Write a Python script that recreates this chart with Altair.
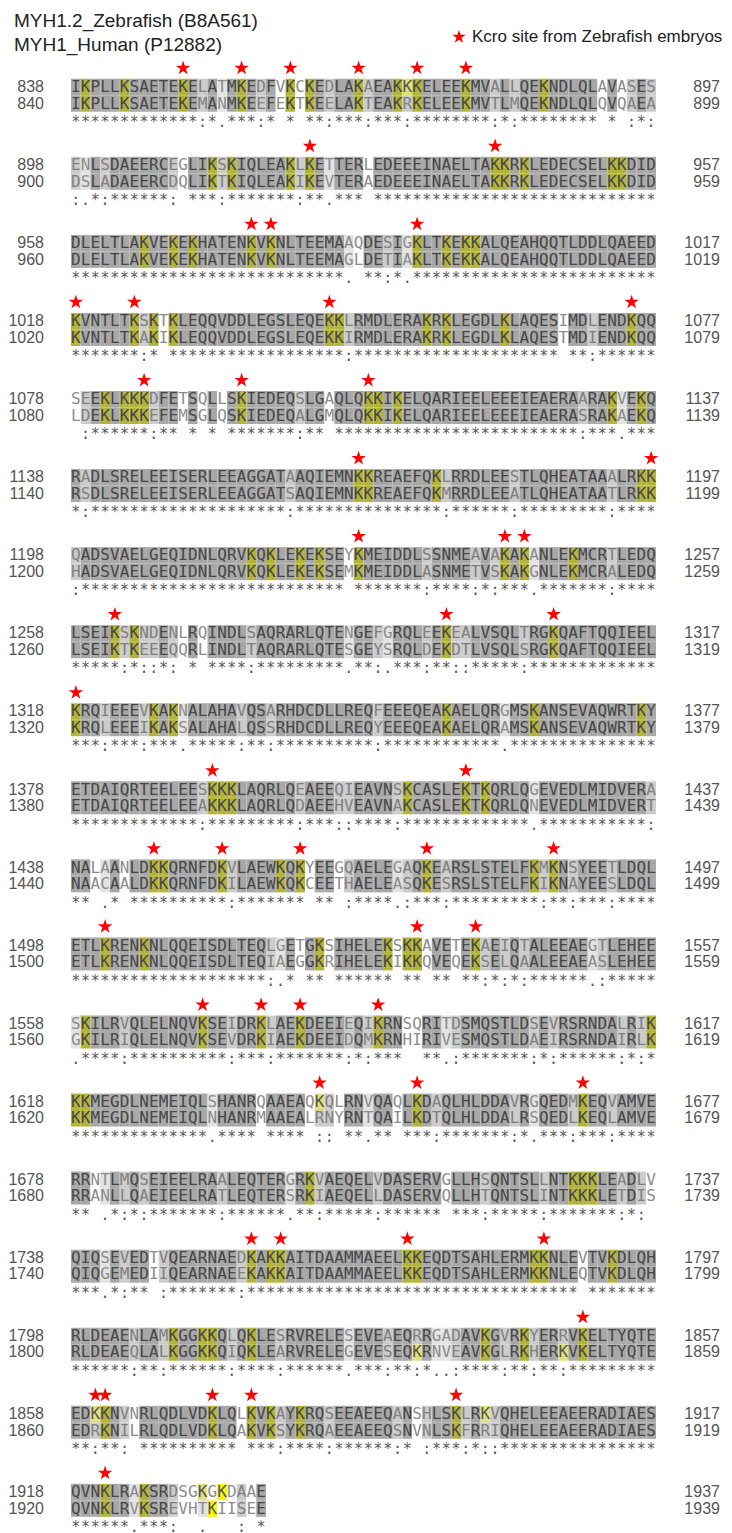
import altair as alt
import pandas as pd

# ---------------- data ----------------
species = ["MYH1.2_Zebrafish (B8A561)", "MYH1_Human (P12882)"]
legend_label = "Kcro site from Zebrafish embryos"
zebrafish_start = 838
human_start = 840

zebrafish = [
    "IKPLLKSAETEKELATMKEDFVKCKEDLAKAEAKKKELEEKMVALLQEKNDLQLAVASES",
    "ENLSDAEERCEGLIKSKIQLEAKLKETTERLEDEEEINAELTAKKRKLEDECSELKKDID",
    "DLELTLAKVEKEKHATENKVKNLTEEMAAQDESIGKLTKEKKALQEAHQQTLDDLQAEED",
    "KVNTLTKSKTKLEQQVDDLEGSLEQEKKLRMDLERAKRKLEGDLKLAQESIMDLENDKQQ",
    "SEEKLKKKDFETSQLLSKIEDEQSLGAQLQKKIKELQARIEELEEEIEAERAARAKVEKQ",
    "RADLSRELEEISERLEEAGGATAAQIEMNKKREAEFQKLRRDLEESTLQHEATAAALRKK",
    "QADSVAELGEQIDNLQRVKQKLEKEKSEYKMEIDDLSSNMEAVAKAKANLEKMCRTLEDQ",
    "LSEIKSKNDENLRQINDLSAQRARLQTENGEFGRQLEEKEALVSQLTRGKQAFTQQIEEL",
    "KRQIEEEVKAKNALAHAVQSARHDCDLLREQFEEEQEAKAELQRGMSKANSEVAQWRTKY",
    "ETDAIQRTEELEESKKKLAQRLQEAEEQIEAVNSKCASLEKTKQRLQGEVEDLMIDVERA",
    "NALAANLDKKQRNFDKVLAEWKQKYEEGQAELEGAQKEARSLSTELFKMKNSYEETLDQL",
    "ETLKRENKNLQQEISDLTEQLGETGKSIHELEKSKKAVETEKAEIQTALEEAEGTLEHEE",
    "SKILRVQLELNQVKSEIDRKLAEKDEEIEQIKRNSQRITDSMQSTLDSEVRSRNDALRIK",
    "KKMEGDLNEMEIQLSHANRQAAEAQKQLRNVQAQLKDAQLHLDDAVRGQEDMKEQVAMVE",
    "RRNTLMQSEIEELRAALEQTERGRKVAEQELVDASERVGLLHSQNTSLLNTKKKLEADLV",
    "QIQSEVEDTVQEARNAEDKAKKAITDAAMMAEELKKEQDTSAHLERMKKNLEVTVKDLQH",
    "RLDEAENLAMKGGKKQLQKLESRVRELESEVEAEQRRGADAVKGVRKYERRVKELTYQTE",
    "EDKKNVNRLQDLVDKLQLKVKAYKRQSEEAEEQANSHLSKLRKVQHELEEAEERADIAES",
    "QVNKLRAKSRDSGKGKDAAE",
]

human = [
    "IKPLLKSAETEKEMANMKEEFEKTKEELAKTEAKRKELEEKMVTLMQEKNDLQLQVQAEA",
    "DSLADAEERCDQLIKTKIQLEAKIKEVTERAEDEEEINAELTAKKRKLEDECSELKKDID",
    "DLELTLAKVEKEKHATENKVKNLTEEMAGLDETIAKLTKEKKALQEAHQQTLDDLQAEED",
    "KVNTLTKAKIKLEQQVDDLEGSLEQEKKIRMDLERAKRKLEGDLKLAQESTMDIENDKQQ",
    "LDEKLKKKEFEMSGLQSKIEDEQALGMQLQKKIKELQARIEELEEEIEAERASRAKAEKQ",
    "RSDLSRELEEISERLEEAGGATSAQIEMNKKREAEFQKMRRDLEEATLQHEATAATLRKK",
    "HADSVAELGEQIDNLQRVKQKLEKEKSEMKMEIDDLASNMETVSKAKGNLEKMCRALEDQ",
    "LSEIKTKEEEQQRLINDLTAQRARLQTESGEYSRQLDEKDTLVSQLSRGKQAFTQQIEEL",
    "KRQLEEEIKAKSALAHALQSSRHDCDLLREQYEEEQEAKAELQRAMSKANSEVAQWRTKY",
    "ETDAIQRTEELEEAKKKLAQRLQDAEEHVEAVNAKCASLEKTKQRLQNEVEDLMIDVERT",
    "NAACAALDKKQRNFDKILAEWKQKCEETHAELEASQKESRSLSTELFKIKNAYEESLDQL",
    "ETLKRENKNLQQEISDLTEQIAEGGKRIHELEKIKKQVEQEKSELQAALEEAEASLEHEE",
    "GKILRIQLELNQVKSEVDRKIAEKDEEIDQMKRNHIRIVESMQSTLDAEIRSRNDAIRLK",
    "KKMEGDLNEMEIQLNHANRMAAEALRNYRNTQAILKDTQLHLDDALRSQEDLKEQLAMVE",
    "RRANLLQAEIEELRATLEQTERSRKIAEQELLDASERVQLLHTQNTSLINTKKKLETDIS",
    "QIQGEMEDIIQEARNAEEKAKKAITDAAMMAEELKKEQDTSAHLERMKKNLEQTVKDLQH",
    "RLDEAEQLALKGGKKQIQKLEARVRELEGEVESEQKRNVEAVKGLRKHERKVKELTYQTE",
    "EDRKNILRLQDLVDKLQAKVKSYKRQAEEAEEQSNVNLSKFRRIQHELEEAEERADIAES",
    "QVNKLRVKSREVHTKIISEE",
]

# Kcro sites (1-based column within each block of the zebrafish row)
kcro_sites = [
    [12, 18, 23, 30, 36, 41],
    [25, 44],
    [19, 21, 36],
    [1, 7, 27, 58],
    [8, 18, 31],
    [30, 60],
    [30, 45, 47],
    [5, 39, 50],
    [1],
    [15, 41],
    [9, 16, 24, 37, 50],
    [4, 36, 42],
    [14, 20, 24, 32],
    [26, 36, 53],
    [],
    [19, 22, 35, 49],
    [53],
    [3, 4, 15, 19, 40],
    [4],
]

# Clustal residue groups
STRONG = ["STA", "NEQK", "NHQK", "NDEQ", "QHRK", "MILV", "MILF", "HY", "FYW"]
WEAK = ["CSA", "ATV", "SAG", "STNK", "STPA", "SGND", "SNDEQK", "NDEQHK",
        "NEQHRK", "FVLIM", "HFY"]

# ---------------- layout constants ----------------
BLOCK_STEP = 4.731     # rows between successive blocks
CONS_ROW = 2.12
STAR_ROW = -1.15
X_DOMAIN = [-6.4615, 66.974]
Y_DOMAIN = [-4.788, 87.636]
STAR = ("M0,-1L0.2245,-0.309L0.9511,-0.309L0.3633,0.118L0.5878,0.809L0,0.382"
        "L-0.5878,0.809L-0.3633,0.118L-0.9511,-0.309L-0.2245,-0.309Z")


def cons_symbol(a, b):
    if a == b:
        return "*"
    if any(a in g and b in g for g in STRONG):
        return ":"
    if any(a in g and b in g for g in WEAK):
        return "."
    return " "


cells, cons, stars, nums = [], [], [], []
zp, hp = zebrafish_start, human_start
for b, (zs, hs) in enumerate(zip(zebrafish, human)):
    base = b * BLOCK_STEP
    for c, (a, h) in enumerate(zip(zs, hs)):
        sym = cons_symbol(a, h)
        for r, me in enumerate((a, h)):
            if sym == "*":
                cls = "Kid" if me == "K" else "id"
            elif me == "K":
                cls = "Ksim" if sym in ":." else "Kdiff"
            else:
                cls = {":": "strong", ".": "weak", " ": "none"}[sym]
            cells.append(dict(c0=c, c1=c + 1, xc=c + 0.5, y=base + r,
                              y0=base + r - 0.5, y1=base + r + 0.5,
                              ch=me, cls=cls))
        if sym != " ":
            cons.append(dict(xc=c + 0.5, y=base + CONS_ROW, ch=sym))
    for p in kcro_sites[b]:
        stars.append(dict(xc=p - 0.5, y=base + STAR_ROW))
    nums.append(dict(y=base, start=zp, end=zp + len(zs) - 1))
    nums.append(dict(y=base + 1, start=hp, end=hp + len(hs) - 1))
    zp += len(zs)
    hp += len(hs)

cells = pd.DataFrame(cells)
cons = pd.DataFrame(cons)
stars = pd.DataFrame(stars)
nums = pd.DataFrame(nums)

xs = alt.Scale(domain=X_DOMAIN, nice=False, zero=False)
ys = alt.Scale(domain=Y_DOMAIN, nice=False, zero=False, reverse=True)

cls_domain = ["id", "Kid", "strong", "weak", "none", "Ksim", "Kdiff"]
bg_range = ["#a8a8a8", "#b4b43c", "#cccccc", "#e3e3e3", "#ffffff", "#e0e07e", "#f4f40c"]
fg_range = ["#474747", "#474747", "#808080", "#8c8c8c", "#8c8c8c", "#555555", "#555555"]

rects = alt.Chart(cells).mark_rect(strokeWidth=0).encode(
    x=alt.X("c0:Q", scale=xs, axis=None),
    x2="c1:Q",
    y=alt.Y("y0:Q", scale=ys, axis=None),
    y2="y1:Q",
    color=alt.Color("cls:N", scale=alt.Scale(domain=cls_domain, range=bg_range), legend=None),
)

letters = alt.Chart(cells).mark_text(
    font="DejaVu Sans Mono", fontSize=16, baseline="middle", align="center"
).encode(
    x=alt.X("xc:Q", scale=xs, axis=None),
    y=alt.Y("y:Q", scale=ys, axis=None),
    text="ch:N",
    color=alt.Color("cls:N", scale=alt.Scale(domain=cls_domain, range=fg_range), legend=None),
)

cons_text = alt.Chart(cons).mark_text(
    font="DejaVu Sans Mono", fontSize=15, baseline="middle", align="center", color="#5a5a5a"
).encode(
    x=alt.X("xc:Q", scale=xs, axis=None),
    y=alt.Y("y:Q", scale=ys, axis=None),
    text="ch:N",
)

star_marks = alt.Chart(stars).mark_point(
    shape=STAR, size=230, filled=True, color="#ff0000", opacity=1, strokeWidth=0
).encode(
    x=alt.X("xc:Q", scale=xs, axis=None),
    y=alt.Y("y:Q", scale=ys, axis=None),
)

left_nums = alt.Chart(nums).mark_text(
    font="Liberation Sans", fontSize=16, align="right", baseline="middle", color="#555555"
).encode(
    x=alt.datum(-2.77),
    y=alt.Y("y:Q", scale=ys, axis=None),
    text="start:Q",
)

right_nums = alt.Chart(nums).mark_text(
    font="Liberation Sans", fontSize=16, align="right", baseline="middle", color="#555555"
).encode(
    x=alt.datum(66.56),
    y=alt.Y("y:Q", scale=ys, axis=None),
    text="end:Q",
)

head_df = pd.DataFrame({"t": species, "i": [0, 1]})
header1 = alt.Chart(head_df[head_df.i == 0]).mark_text(
    font="Liberation Sans", fontSize=19, align="left", baseline="middle", color="#222222"
).encode(x=alt.value(6), y=alt.value(13), text="t:N")
header2 = alt.Chart(head_df[head_df.i == 1]).mark_text(
    font="Liberation Sans", fontSize=19, align="left", baseline="middle", color="#222222"
).encode(x=alt.value(6), y=alt.value(37), text="t:N")

leg_df = pd.DataFrame({"t": [legend_label]})
leg_star = alt.Chart(leg_df).mark_point(
    shape=STAR, size=200, filled=True, color="#ff0000", opacity=1, strokeWidth=0
).encode(x=alt.value(451), y=alt.value(29))
leg_text = alt.Chart(leg_df).mark_text(
    font="Liberation Sans", fontSize=17, align="left", baseline="middle", color="#222222"
).encode(x=alt.value(464), y=alt.value(29), text="t:N")

chart = alt.layer(
    rects, letters, cons_text, star_marks, left_nums, right_nums,
    header1, header2, leg_star, leg_text
).resolve_scale(color="independent").properties(
    width=716, height=1525, padding=0, autosize="none"
).configure_view(stroke=None)

chart.save("out.html", embed_options={"renderer": "svg", "actions": False})
